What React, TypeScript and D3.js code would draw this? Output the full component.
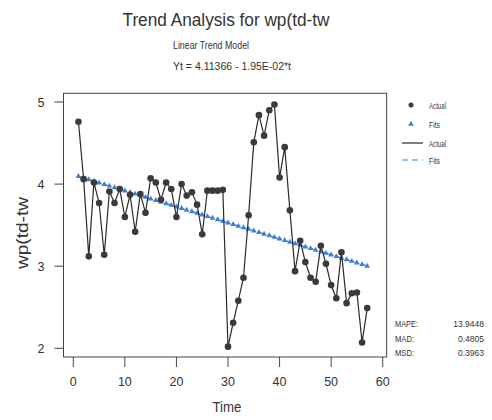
import React from "react";
import * as d3 from "d3";

const actual: number[] = [
  4.76, 4.06, 3.12, 4.02, 3.77, 3.14, 3.91, 3.77, 3.94, 3.6,
  3.87, 3.42, 3.88, 3.65, 4.07, 4.02, 3.81, 4.02, 3.94, 3.6,
  4.0, 3.86, 3.9, 3.75, 3.39, 3.92, 3.92, 3.92, 3.93, 2.02,
  2.31, 2.58, 2.86, 3.62, 4.51, 4.84, 4.59, 4.9, 4.97, 4.08,
  4.45, 3.68, 2.94, 3.31, 3.05, 2.86, 2.81, 3.25, 3.03, 2.77,
  2.61, 3.17, 2.55, 2.67, 2.68, 2.07, 2.49,
];
const intercept = 4.11366;
const slope = -0.0195;
const xTicks = [0, 10, 20, 30, 40, 50, 60];
const yTicks = [2, 3, 4, 5];
const statLabels = ["MAPE:", "MAD:", "MSD:"];
const statValues = ["13.9448", "0.4805", "0.3963"];
const legendLabels = ["Actual", "Fits", "Actual", "Fits"];

const W = 492;
const H = 420;
const frame = { left: 63.5, right: 386.7, top: 93.3, bottom: 357 };

export default function App() {
  const x = d3.scaleLinear().domain([0, 60]).range([73.3, 382.7]);
  const y = d3.scaleLinear().domain([2, 5]).range([348.3, 102]);
  const pts = actual.map((v, i) => ({ t: i + 1, v }));
  const fits = actual.map((_, i) => ({ t: i + 1, v: intercept + slope * (i + 1) }));
  const line = d3
    .line<{ t: number; v: number }>()
    .x((d) => x(d.t))
    .y((d) => y(d.v));
  const tri = d3.symbol().type(d3.symbolTriangle).size(14)();
  const font = "Liberation Sans, Arial, sans-serif";
  const dark = "#3a3a3a";
  const blue = "#3f7fd6";
  const legendY = [105, 124, 143, 160];
  const statY = [323, 338, 352];

  return (
    <svg
      width={W}
      height={H}
      style={{ position: "absolute", left: 0, top: 0, background: "#fff" }}
      fontFamily={font}
    >
      <rect x={0} y={0} width={W} height={H} fill="#fff" />
      {/* titles */}
      <text x={226} y={26} textAnchor="middle" fontSize={17.5} fill="#333" textLength={207} lengthAdjust="spacingAndGlyphs">
        Trend Analysis for wp(td-tw
      </text>
      <text x={211} y={49} textAnchor="middle" fontSize={11.5} fill="#333" textLength={76} lengthAdjust="spacingAndGlyphs">
        Linear Trend Model
      </text>
      <text x={232} y={70} textAnchor="middle" fontSize={11} fill="#333" textLength={118} lengthAdjust="spacingAndGlyphs">
        Yt = 4.11366 - 1.95E-02*t
      </text>

      {/* frame */}
      <rect
        x={frame.left}
        y={frame.top}
        width={frame.right - frame.left}
        height={frame.bottom - frame.top}
        fill="none"
        stroke="#444"
        strokeWidth={1}
      />

      {/* y axis */}
      {yTicks.map((t) => (
        <g key={"y" + t}>
          <line x1={frame.left - 9} x2={frame.left} y1={y(t)} y2={y(t)} stroke="#444" />
          <text x={41} y={y(t) + 4.5} textAnchor="middle" fontSize={12.5} fill="#333">
            {t}
          </text>
        </g>
      ))}
      <text
        transform={`translate(28,233) rotate(-90)`}
        textAnchor="middle"
        fontSize={16}
        fill="#333"
        textLength={72}
        lengthAdjust="spacingAndGlyphs"
      >
        wp(td-tw
      </text>

      {/* x axis */}
      {xTicks.map((t) => (
        <g key={"x" + t}>
          <line x1={x(t)} x2={x(t)} y1={frame.bottom} y2={frame.bottom + 10} stroke="#444" />
          <text x={x(t)} y={386} textAnchor="middle" fontSize={12.5} fill="#333">
            {t}
          </text>
        </g>
      ))}
      <text x={227} y={412} textAnchor="middle" fontSize={14.5} fill="#333" textLength={29} lengthAdjust="spacingAndGlyphs">
        Time
      </text>

      {/* fits */}
      <path d={line(fits) || ""} fill="none" stroke={blue} strokeWidth={1.2} strokeDasharray="6,3" />
      {fits.map((d) => (
        <path key={"f" + d.t} d={tri || ""} transform={`translate(${x(d.t)},${y(d.v)})`} fill={blue} />
      ))}

      {/* actual */}
      <path d={line(pts) || ""} fill="none" stroke="#2a2a2a" strokeWidth={1.2} />
      {pts.map((d) => (
        <circle key={"a" + d.t} cx={x(d.t)} cy={y(d.v)} r={3.3} fill={dark} />
      ))}

      {/* legend */}
      <circle cx={411} cy={legendY[0]} r={2.5} fill={dark} />
      <path d={tri || ""} transform={`translate(411,${legendY[1]})`} fill={blue} />
      <line x1={402} x2={423} y1={legendY[2]} y2={legendY[2]} stroke="#2a2a2a" strokeWidth={1.2} />
      <line x1={402} x2={423} y1={legendY[3]} y2={legendY[3]} stroke={blue} strokeWidth={1.2} strokeDasharray="6,4" />
      {legendLabels.map((l, i) => (
        <text
          key={"l" + i}
          x={429}
          y={legendY[i] + 3.5}
          fontSize={9.5}
          fill="#333"
          textLength={l === "Actual" ? 17 : 11}
          lengthAdjust="spacingAndGlyphs"
        >
          {l}
        </text>
      ))}

      {/* stats */}
      {statLabels.map((l, i) => (
        <g key={"s" + i}>
          <text x={395} y={statY[i] + 3.5} fontSize={9} fill="#333" textLength={l === "MAPE:" ? 23 : 19} lengthAdjust="spacingAndGlyphs">
            {l}
          </text>
          <text x={484} y={statY[i] + 3.5} fontSize={8.5} fill="#333" textAnchor="end">
            {statValues[i]}
          </text>
        </g>
      ))}
    </svg>
  );
}
